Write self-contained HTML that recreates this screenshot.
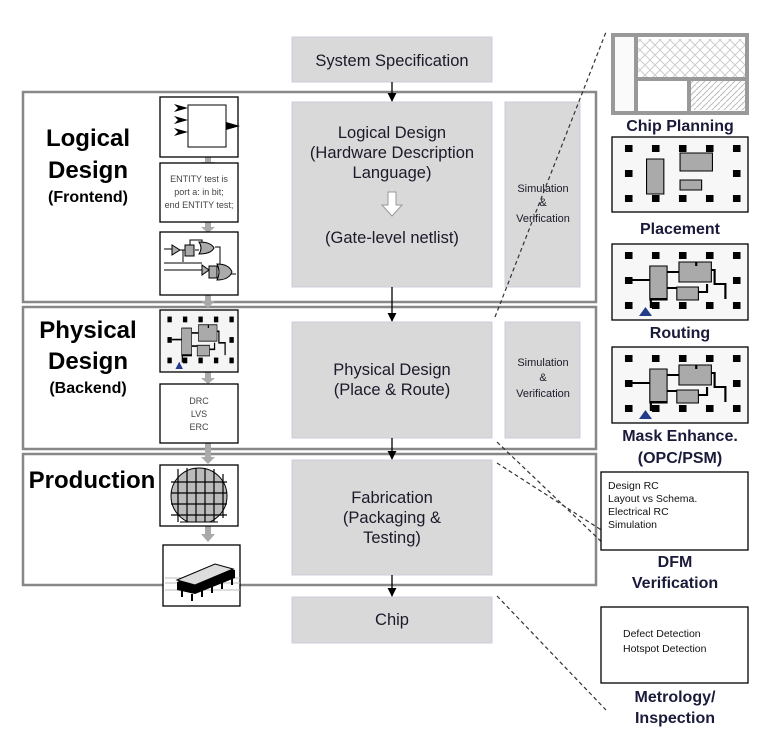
<!DOCTYPE html>
<html><head><meta charset="utf-8"><style>
body{margin:0;background:#fff}
svg{display:block;font-family:"Liberation Sans",sans-serif}
</style></head><body>
<svg width="773" height="751" viewBox="0 0 773 751" xmlns="http://www.w3.org/2000/svg">
<defs>
<marker id="a" viewBox="0 0 10 10" refX="9" refY="5" markerWidth="7" markerHeight="7" orient="auto"><path d="M0,0L10,5L0,10z" fill="#000"/></marker>
<pattern id="x" width="10" height="10" patternUnits="userSpaceOnUse"><path d="M0,0L10,10M10,0L0,10" stroke="#ccc" stroke-width="1"/></pattern>
<pattern id="d" width="6" height="6" patternUnits="userSpaceOnUse"><path d="M0,6L6,0" stroke="#bbb"/></pattern>
<clipPath id="wc"><rect x="160" y="465" width="78" height="57"/></clipPath>
<g id="pads" fill="#000">
<rect x="12" y="8" width="7" height="7"/><rect x="37" y="8" width="7" height="7"/><rect x="62" y="8" width="7" height="7"/><rect x="87" y="8" width="7" height="7"/><rect x="112" y="8" width="7" height="7"/>
<rect x="12" y="33" width="7" height="7"/><rect x="112" y="33" width="7" height="7"/>
<rect x="12" y="58" width="7" height="7"/><rect x="37" y="58" width="7" height="7"/><rect x="62" y="58" width="7" height="7"/><rect x="87" y="58" width="7" height="7"/><rect x="112" y="58" width="7" height="7"/>
</g>
<g id="route">
<use href="#pads"/>
<rect x="35" y="22" width="16" height="34" fill="#aaa" stroke="#000"/>
<rect x="62" y="18" width="30" height="20" fill="#aaa" stroke="#000"/>
<rect x="60" y="43" width="20" height="13" fill="#aaa" stroke="#000"/>
<path d="M19,36H35M51,28H62M51,44H60M51,55H36V64M92,26H95V40H105V55M80,48H88V40M78,22V18" stroke="#000" stroke-width="2" fill="none"/>
<path d="M25,72L31,63L37,72z" fill="#223c8a"/>
</g>
</defs>

<g fill="none" stroke="#888" stroke-width="2.5">
<rect x="23" y="92" width="573" height="210"/>
<rect x="23" y="307" width="573" height="142"/>
<rect x="23" y="454" width="573" height="131"/>
</g>

<g fill="#d9d9d9" stroke="#ccd" stroke-width="1">
<rect x="292" y="37" width="200" height="45"/>
<rect x="292" y="102" width="200" height="185"/>
<rect x="505" y="102" width="75" height="185"/>
<rect x="292" y="322" width="200" height="116"/>
<rect x="505" y="322" width="75" height="116"/>
<rect x="292" y="460" width="200" height="115"/>
<rect x="292" y="597" width="200" height="46"/>
</g>
<g stroke="#000" stroke-width="1.3" marker-end="url(#a)">
<line x1="392" y1="82" x2="392" y2="101"/>
<line x1="392" y1="287" x2="392" y2="321"/>
<line x1="392" y1="438" x2="392" y2="459"/>
<line x1="392" y1="575" x2="392" y2="596"/>
</g>
<g fill="#1a1a2a" text-anchor="middle" font-size="16.5">
<text x="392" y="66">System Specification</text>
<text x="392" y="138">Logical Design</text>
<text x="392" y="158">(Hardware Description</text>
<text x="392" y="178">Language)</text>
<text x="392" y="243">(Gate-level netlist)</text>
<text x="392" y="375">Physical Design</text>
<text x="392" y="395">(Place &amp; Route)</text>
<text x="392" y="503">Fabrication</text>
<text x="392" y="523">(Packaging &amp;</text>
<text x="392" y="543">Testing)</text>
<text x="392" y="625">Chip</text>
<g font-size="11"><text x="543" y="192">Simulation</text><text x="543" y="206">&amp;</text><text x="543" y="222">Verification</text>
<text x="543" y="366">Simulation</text><text x="543" y="381">&amp;</text><text x="543" y="397">Verification</text></g>
</g>
<path d="M388,192H396V205H402L392,216L382,205H388z" fill="#fff" stroke="#999"/>

<g fill="#000" font-weight="bold" text-anchor="middle">
<text x="88" y="146" font-size="24">Logical</text>
<text x="88" y="178" font-size="24">Design</text>
<text x="88" y="202" font-size="16">(Frontend)</text>
<text x="88" y="338" font-size="24">Physical</text>
<text x="88" y="369" font-size="24">Design</text>
<text x="88" y="393" font-size="16">(Backend)</text>
<text x="92" y="488" font-size="24">Production</text>
</g>

<g fill="#aaa">
<path d="M205,157h6v5h4l-7,6l-7,-6h4z"/><path d="M205,222h6v5h4l-7,6l-7,-6h4z"/>
<path d="M205,295h6v6h4l-7,7l-7,-7h4z"/><path d="M205,372h6v6h4l-7,6l-7,-6h4z"/>
<path d="M205,443h6v14h4l-7,7l-7,-7h4z"/><path d="M205,526h6v8h4l-7,8l-7,-8h4z"/>
</g>

<g fill="#fff" stroke="#000" stroke-width="1.3">
<rect x="160" y="97" width="78" height="60"/>
<rect x="160" y="163" width="78" height="59"/>
<rect x="160" y="232" width="78" height="63"/>
<rect x="160" y="310" width="78" height="62" fill="#f5f5f5"/>
<rect x="160" y="384" width="78" height="59"/>
<rect x="160" y="465" width="78" height="61"/>
<rect x="163" y="545" width="77" height="61"/>
</g>
<rect x="188" y="105" width="38" height="42" fill="#fff" stroke="#000"/>
<path d="M174,104l14,4l-14,4l4,-4zM174,116l14,4l-14,4l4,-4zM174,128l14,4l-14,4l4,-4zM226,122l14,4l-14,4z" fill="#000"/>
<g fill="#444" font-size="9" text-anchor="middle"><text x="199" y="182">ENTITY test is</text><text x="199" y="195">port a: in bit;</text><text x="199" y="208">end ENTITY test;</text>
<text x="199" y="404">DRC</text><text x="199" y="417">LVS</text><text x="199" y="430">ERC</text></g>
<g stroke="#000" fill="#aaa">
<path d="M164,249H172M180,250H185M195,250H199M164,263H202M164,270H206M214,273H217M183,262V250M190,246V240H202V245M215,247H220V264H220M230,274H236" fill="none"/>
<path d="M172,245v10l8,-5z"/><rect x="185" y="245" width="9" height="11"/><path d="M199,242q12,0 15,6q-3,6 -15,6q4,-6 0,-12z"/>
<path d="M202,265v10l7,-5z"/><rect x="209" y="266" width="8" height="12"/><path d="M217,264q12,0 15,8q-3,8 -15,8q4,-8 0,-16z"/>
</g>
<g transform="translate(160,310) scale(0.62,0.82)"><use href="#route"/></g>
<g clip-path="url(#wc)">
<circle cx="199" cy="496" r="28" fill="#bbb" stroke="#000"/>
<g stroke="#000" stroke-width="1.2"><path d="M171,482H227M171,493H227M171,504H227M171,515H227M178,469V522M187,468V524M196,468V523M205,468V523M214,469V522M223,474V518"/></g>
</g>
<path d="M180,522H218" stroke="#000"/>
<g stroke="#bbb"><path d="M165,578H240M165,583H240M165,590H240"/></g>
<path d="M177,582L215,566L235,570L235,578L195,594L177,590z" fill="#000"/>
<path d="M177,580L215,564L233,569L195,585z" fill="#ddd" stroke="#000"/>
<g stroke="#000" stroke-width="2"><path d="M182,590v7M192,594v7M202,590v7M212,586v7M222,582v7M232,578v7"/></g>

<g stroke="#333" stroke-width="1.2" stroke-dasharray="4,3">
<line x1="495" y1="317" x2="606" y2="32"/>
<line x1="497" y1="442" x2="608" y2="548"/>
<line x1="497" y1="463" x2="606" y2="533"/>
<line x1="497" y1="596" x2="606" y2="710"/>
</g>

<rect x="613" y="35" width="134" height="78" fill="#fff" stroke="#999" stroke-width="4"/>
<rect x="615" y="37" width="19" height="74" fill="#fafafa"/>
<path d="M636,37V111M636,79H745M689,79V111" stroke="#999" stroke-width="4"/>
<rect x="638" y="39" width="107" height="38" fill="url(#x)"/>
<rect x="691" y="81" width="54" height="29" fill="url(#d)"/>
<rect x="612" y="137" width="136" height="75" fill="#f7f7f7" stroke="#000" stroke-width="1.3"/>
<g transform="translate(612,137) scale(1.08,1.0)"><use href="#pads"/>
<rect x="32" y="22" width="16" height="35" fill="#aaa" stroke="#000"/><rect x="63" y="16" width="30" height="18" fill="#aaa" stroke="#000"/><rect x="63" y="43" width="20" height="10" fill="#aaa" stroke="#000"/></g>
<rect x="612" y="244" width="136" height="76" fill="#f7f7f7" stroke="#000" stroke-width="1.3"/>
<g transform="translate(612,244) scale(1.08,1.0)"><use href="#route"/></g>
<rect x="612" y="347" width="136" height="76" fill="#f7f7f7" stroke="#000" stroke-width="1.3"/>
<g transform="translate(612,347) scale(1.08,1.0)"><use href="#route"/></g>
<rect x="601" y="472" width="147" height="78" fill="#fff" stroke="#000" stroke-width="1.3"/>
<rect x="601" y="607" width="147" height="76" fill="#fff" stroke="#000" stroke-width="1.3"/>
<g fill="#111" font-size="10.5"><text x="608" y="489">Design RC</text><text x="608" y="502">Layout vs Schema.</text><text x="608" y="515">Electrical RC</text><text x="608" y="528">Simulation</text>
<text x="623" y="637">Defect Detection</text><text x="623" y="652">Hotspot Detection</text></g>
<g fill="#1a1a3a" font-weight="bold" font-size="16" text-anchor="middle">
<text x="680" y="131">Chip Planning</text><text x="680" y="234">Placement</text><text x="680" y="338">Routing</text>
<text x="680" y="441">Mask Enhance.</text><text x="680" y="463">(OPC/PSM)</text>
<text x="675" y="567">DFM</text><text x="675" y="588">Verification</text>
<text x="675" y="702">Metrology/</text><text x="675" y="723">Inspection</text>
</g>
</svg>
</body></html>
